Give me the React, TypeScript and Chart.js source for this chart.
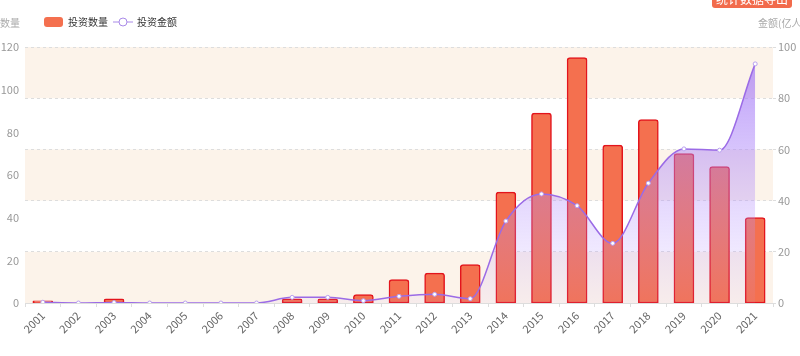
import React, { useEffect, useRef } from 'react';
import { Chart, registerables } from 'chart.js';
Chart.register(...registerables);

const years = ['2001','2002','2003','2004','2005','2006','2007','2008','2009','2010','2011','2012','2013','2014','2015','2016','2017','2018','2019','2020','2021'];
const counts = [1, 0, 2, 0, 0, 0, 0, 2, 2, 4, 11, 14, 18, 52, 89, 115, 74, 86, 70, 64, 40];
const amounts = [0.3, 0, 0.2, 0, 0, 0, 0, 2.2, 2.2, 0.9, 2.6, 3.4, 1.7, 32, 42.6, 38, 23.3, 46.8, 60.2, 59.7, 93.4];
const countLabel = '投资数量';
const amountLabel = '投资金额';
const leftAxisName = '数量';
const rightAxisName = '金额(亿人民币)';
const buttonText = '统计数据导出';

const FONT = '"Noto Sans CJK SC", "Noto Sans", sans-serif';

const bandsPlugin = {
  id: 'bands',
  beforeDraw(chart: any) {
    const { ctx, chartArea } = chart;
    const y1 = chart.scales.y1;
    const ticks = y1.ticks.map((t: any) => t.value);
    ctx.save();
    ctx.fillStyle = '#fcf3ea';
    for (let i = 0; i < ticks.length - 1; i++) {
      const lo = ticks[i];
      const hi = ticks[i + 1];
      if (i % 2 === 0) {
        const yTop = y1.getPixelForValue(hi);
        const yBot = y1.getPixelForValue(lo);
        ctx.fillRect(chartArea.left, yTop, chartArea.right - chartArea.left, yBot - yTop);
      }
    }
    ctx.restore();
  },
};

const decorPlugin = {
  id: 'decor',
  afterDraw(chart: any) {
    const { ctx } = chart;
    ctx.save();
    // export button (clipped at top)
    ctx.fillStyle = '#f26b4c';
    ctx.beginPath();
    (ctx as any).roundRect(712, -10, 80, 18, 3);
    ctx.fill();
    ctx.fillStyle = '#ffffff';
    ctx.font = `12px ${FONT}`;
    ctx.textAlign = 'center';
    ctx.textBaseline = 'middle';
    ctx.fillText(buttonText, 752, -1);

    // axis names
    ctx.fillStyle = '#aaaaaa';
    ctx.font = `10px ${FONT}`;
    ctx.textAlign = 'left';
    ctx.fillText(leftAxisName, 0, 23);
    ctx.fillText(rightAxisName, 758, 23);

    // legend
    ctx.fillStyle = '#f4704f';
    ctx.beginPath();
    (ctx as any).roundRect(44, 17, 19, 10, 3);
    ctx.fill();
    ctx.fillStyle = '#333333';
    ctx.font = `10px ${FONT}`;
    ctx.fillText(countLabel, 68, 22);

    ctx.strokeStyle = '#a98ae8';
    ctx.lineWidth = 1;
    ctx.beginPath();
    ctx.moveTo(113, 22);
    ctx.lineTo(133, 22);
    ctx.stroke();
    ctx.fillStyle = '#ffffff';
    ctx.beginPath();
    ctx.arc(123, 22, 4, 0, Math.PI * 2);
    ctx.fill();
    ctx.stroke();
    ctx.fillStyle = '#333333';
    ctx.fillText(amountLabel, 137, 22);
    ctx.restore();
  },
};

export default function App() {
  const ref = useRef<HTMLCanvasElement>(null);
  useEffect(() => {
    document.body.style.margin = '0';
    const canvas = ref.current!;
    const chart = new Chart(canvas, {
      data: {
        labels: years,
        datasets: [
          {
            type: 'line',
            label: amountLabel,
            data: amounts,
            yAxisID: 'y1',
            order: 0,
            borderColor: '#9b6be6',
            borderWidth: 1.5,
            cubicInterpolationMode: 'monotone',
            pointRadius: 2,
            pointBackgroundColor: '#ffffff',
            pointBorderColor: '#b9a0f0',
            pointBorderWidth: 1,
            fill: 'origin',
            backgroundColor: (c: any) => {
              const area = c.chart.chartArea;
              if (!area) return 'rgba(170,130,250,0.3)';
              const g = c.chart.ctx.createLinearGradient(0, area.top, 0, area.bottom);
              g.addColorStop(0, 'rgba(160,115,245,0.75)');
              g.addColorStop(1, 'rgba(190,160,255,0.08)');
              return g;
            },
          } as any,
          {
            type: 'bar',
            label: countLabel,
            data: counts,
            yAxisID: 'y',
            order: 1,
            backgroundColor: '#f4704f',
            borderColor: '#e3141c',
            borderWidth: 1.5,
            borderSkipped: false,
            borderRadius: { topLeft: 3, topRight: 3, bottomLeft: 0, bottomRight: 0 },
            barThickness: 20,
          } as any,
        ],
      },
      options: {
        responsive: false,
        animation: false,
        layout: { padding: { top: 47, left: 0, right: 0, bottom: 0 } },
        plugins: { legend: { display: false }, tooltip: { enabled: false } },
        scales: {
          x: {
            type: 'category',
            offset: true,
            grid: { offset: true, drawOnChartArea: false, tickLength: 4, color: '#dddddd' },
            border: { display: true, color: '#dddddd' },
            ticks: { maxRotation: 45, minRotation: 45, color: '#666666', font: { size: 11, family: FONT }, padding: 2 },
            afterFit: (s: any) => { s.height = 53; },
          },
          y: {
            position: 'left',
            min: 0,
            max: 120,
            ticks: { stepSize: 20, color: '#999999', font: { size: 11, family: FONT }, padding: 6 },
            grid: { display: false, drawTicks: false },
            border: { display: false },
            afterFit: (s: any) => { s.width = 25; },
          },
          y1: {
            position: 'right',
            min: 0,
            max: 100,
            ticks: { stepSize: 20, color: '#999999', font: { size: 11, family: FONT }, padding: 2 },
            grid: { color: '#dddddd', tickLength: 3, drawTicks: true },
            border: { display: false, dash: [3, 3] },
            afterFit: (s: any) => { s.width = 27; },
          },
        },
      },
      plugins: [bandsPlugin, decorPlugin],
    } as any);
    return () => chart.destroy();
  }, []);
  return (
    <div style={{ width: 800, height: 356 }}>
      <canvas ref={ref} width={800} height={356} />
    </div>
  );
}
